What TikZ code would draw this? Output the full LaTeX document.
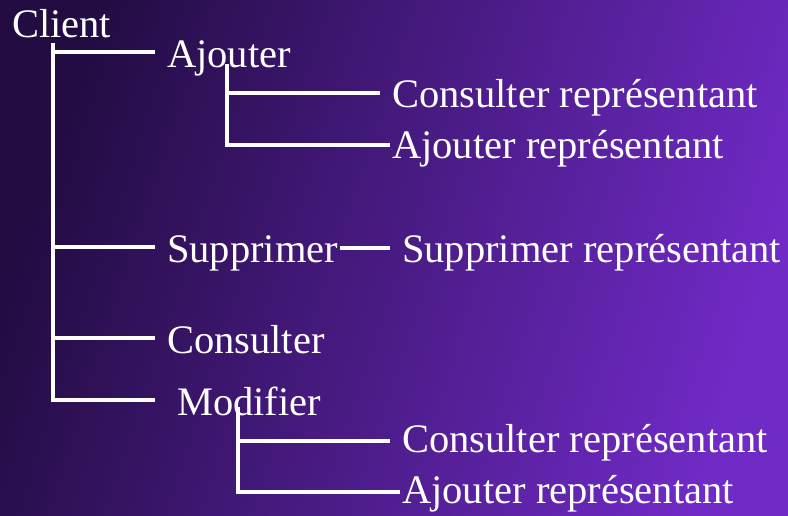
\documentclass[tikz,border=0pt]{standalone}
\usepackage{fontspec}
\setmainfont{Liberation Serif}
\definecolor{bgdark}{RGB}{34,12,66}
\definecolor{bgmid}{RGB}{64,20,120}
\definecolor{bglight}{RGB}{112,42,198}
\begin{document}
\begin{tikzpicture}[x=1pt, y=-1pt,
    item/.style={anchor=base west, inner sep=0pt, text=white, font=\fontsize{40.5}{48}\selectfont},
    branch/.style={draw=white, line width=3.2pt}
]
    % background
    \shade[top color=bgdark, middle color=bgmid, bottom color=bglight, shading angle=72] (0,0) rectangle (788,515);
    \useasboundingbox (0,0) rectangle (788,515);

    \node[item] (client) at (12,37) {Client};
    \node[item] (ajouter) at (167,67) {Ajouter};
    \node[item] (consrepA) at (392,107) {Consulter représentant};
    \node[item] (ajrepA) at (392,158) {Ajouter représentant};
    \node[item] (supprimer) at (167,262) {Supprimer};
    \node[item] (supprep) at (402,262) {Supprimer représentant};
    \node[item] (consulter) at (167,353) {Consulter};
    \node[item] (modifier) at (177,415) {Modifier};
    \node[item] (consrepM) at (402,452) {Consulter représentant};
    \node[item] (ajrepM) at (402,503) {Ajouter représentant};

    \coordinate (trunk) at (53,43);
    \coordinate (ajfork) at (227,64);
    \coordinate (modfork) at (238,407);

    % main branches
    \draw[branch] (trunk) |- ([xshift=-12pt,yshift=15pt]ajouter.base west);
    \draw[branch] (trunk) |- ([xshift=-12pt,yshift=15pt]supprimer.base west);
    \draw[branch] (trunk) |- ([xshift=-12pt,yshift=15pt]consulter.base west);
    \draw[branch] (trunk) |- ([xshift=-22pt,yshift=15pt]modifier.base west);

    % sub branches
    \draw[branch] (ajfork) |- ([xshift=-12pt,yshift=14pt]consrepA.base west);
    \draw[branch] (ajfork) |- ([xshift=-2pt,yshift=13pt]ajrepA.base west);
    \draw[branch] ([xshift=2pt,yshift=14pt]supprimer.base east) -- ([xshift=-12pt,yshift=14pt]supprep.base west);
    \draw[branch] (modfork) |- ([xshift=-12pt,yshift=11pt]consrepM.base west);
    \draw[branch] (modfork) |- ([xshift=-2pt,yshift=11pt]ajrepM.base west);
\end{tikzpicture}
\end{document}
